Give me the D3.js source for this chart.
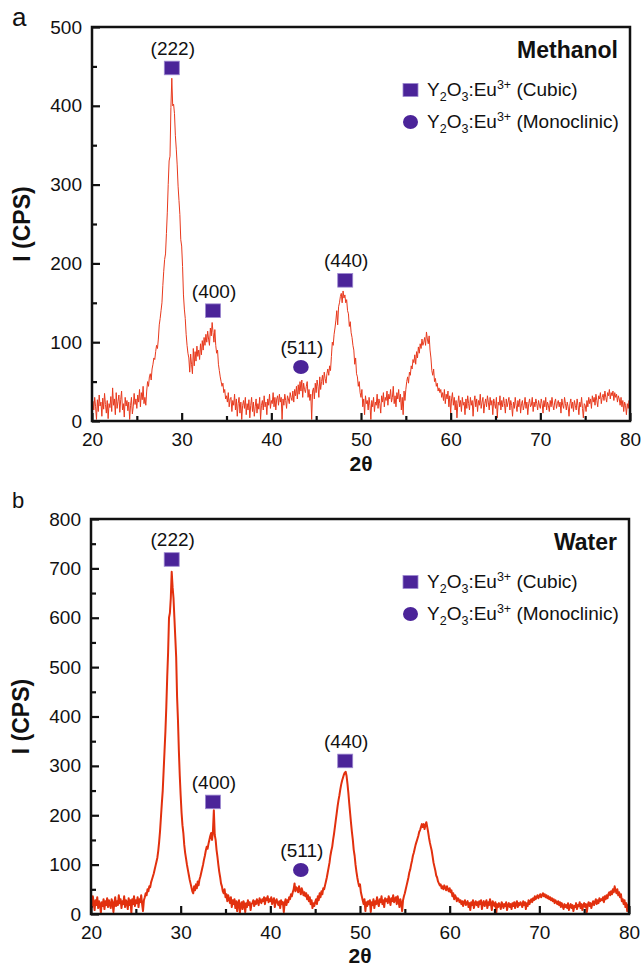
<!DOCTYPE html>
<html>
<head>
<meta charset="utf-8">
<script src="https://cdn.jsdelivr.net/npm/d3@7"></script>
<style>
  html, body { margin: 0; padding: 0; background: #fff; }
  svg { display: block; }
  text { font-family: "Liberation Sans", Arial, Helvetica, sans-serif; fill: #111; }
</style>
</head>
<body>
<svg id="chart" width="641" height="967"></svg>
<script>
// ---------------- DATA ----------------
const twoThetaStart = 20;   // degrees
const twoThetaStep = 0.1;   // degrees per sample

// Methanol sample, I (CPS), 20.0 .. 80.0 in 0.1 deg steps
const methanolCounts = [
  8, 25, 14, 30, 18, 2, 27, 12, 33, 19,
  24, 6, 29, 15, 35, 21, 10, 26, 3, 22,
  17, 31, 12, 42, 20, 28, 8, 36, 16, 25,
  33, 11, 27, 38, 14, 22, 5, 30, 19, 26,
  13, 24, 2, 20, 30, 9, 18, 35, 21, 28,
  16, 33, 24, 40, 18, 36, 27, 44, 22, 30,
  20, 38, 50, 44, 56, 60, 52, 66, 72, 80,
  78, 88, 96, 92, 104, 122, 130, 140, 150, 172,
  190, 205, 212, 238, 265, 300, 330, 336, 398, 435,
  400, 402, 390, 362, 345, 325, 298, 280, 262, 230,
  222, 196, 160, 142, 130, 110, 96, 86, 80, 62,
  85, 72, 60, 92, 70, 88, 76, 95, 82, 90,
  78, 98, 84, 102, 90, 106, 96, 110, 100, 114,
  104, 96, 118, 108, 125, 112, 100, 116, 96, 86,
  90, 72, 64, 56, 50, 44, 48, 36, 40, 28,
  32, 24, 36, 18, 28, 30, 12, 26, 20, 34,
  14, 28, 6, 22, 30, 10, 24, 2, 20, 26,
  16, 30, 8, 22, 14, 27, 4, 20, 30, 12,
  24, 6, 18, 28, 10, 22, 15, 30, 2, 20,
  26, 14, 32, 18, 24, 8, 28, 20, 34, 16,
  26, 22, 36, 18, 30, 14, 28, 32, 20, 34,
  24, 30, 2, 28, 20, 34, 26, 16, 32, 28,
  22, 36, 30, 26, 38, 24, 40, 32, 44, 28,
  46, 34, 50, 38, 52, 30, 48, 40, 36, 44,
  50, 30, 40, 26, 34, 2, 38, 42, 28, 48,
  36, 52, 44, 30, 56, 40, 50, 58, 46, 62,
  54, 48, 60, 66, 58, 70, 64, 82, 100, 96,
  110, 118, 128, 140, 122, 145, 150, 158, 162, 150,
  165, 156, 160, 150, 154, 140, 136, 120, 126, 112,
  106, 96, 90, 72, 80, 60, 56, 44, 50, 36,
  30, 40, 18, 28, 8, 32, 22, 26, 14, 30,
  20, 2, 26, 18, 30, 12, 24, 20, 34, 16,
  28, 22, 10, 32, 24, 36, 18, 30, 26, 38,
  20, 34, 28, 40, 24, 30, 44, 22, 32, 18,
  36, 28, 40, 24, 34, 14, 30, 8, 38, 26,
  40, 50, 56, 48, 62, 58, 70, 66, 78, 74,
  84, 72, 88, 80, 94, 86, 98, 92, 104, 96,
  100, 106, 96, 113, 104, 98, 108, 90, 80, 64,
  58, 66, 50, 54, 44, 48, 38, 42, 36, 40,
  30, 36, 26, 40, 22, 34, 28, 38, 18, 32,
  10, 28, 36, 20, 30, 14, 26, 4, 22, 32,
  18, 26, 12, 30, 20, 24, 8, 28, 16, 32,
  22, 14, 30, 20, 26, 6, 24, 32, 18, 28,
  12, 26, 20, 34, 16, 24, 30, 10, 22, 28,
  18, 32, 24, 14, 30, 20, 26, 8, 28, 22,
  16, 30, 4, 24, 20, 32, 14, 26, 18, 30,
  22, 10, 28, 18, 24, 30, 14, 26, 20, 6,
  24, 16, 30, 20, 12, 26, 18, 28, 10, 22,
  26, 14, 20, 30, 16, 24, 8, 22, 28, 18,
  20, 30, 12, 24, 18, 28, 22, 14, 26, 20,
  16, 28, 22, 10, 26, 18, 30, 14, 24, 20,
  12, 26, 18, 30, 20, 14, 24, 28, 16, 22,
  26, 18, 24, 10, 28, 20, 16, 30, 22, 14,
  24, 18, 6, 22, 28, 16, 24, 12, 26, 20,
  14, 28, 20, 8, 24, 18, 30, 16, 4, 22,
  20, 12, 26, 18, 30, 22, 28, 16, 32, 24,
  30, 20, 34, 26, 18, 32, 28, 36, 22, 30,
  34, 26, 38, 30, 24, 36, 32, 40, 28, 36,
  32, 38, 26, 36, 30, 34, 24, 32, 28, 20,
  30, 18, 26, 12, 24, 20, 8, 22, 16, 26,
  14
];

// Water sample, I (CPS), 20.0 .. 80.0 in 0.1 deg steps
const waterCounts = [
  30, 14, 36, 22, 8, 28, 18, 34, 12, 26,
  20, 2, 24, 16, 30, 10, 26, 18, 32, 14,
  28, 20, 12, 30, 24, 4, 22, 34, 16, 26,
  18, 38, 22, 30, 12, 26, 20, 36, 14, 28,
  24, 10, 32, 18, 28, 2, 30, 20, 36, 16,
  28, 22, 34, 14, 30, 24, 38, 20, 6, 28,
  34, 42, 38, 50, 46, 56, 54, 64, 70, 76,
  82, 90, 98, 106, 114, 128, 146, 168, 196, 224,
  250, 290, 330, 370, 420, 480, 530, 600, 610, 640,
  693, 662, 640, 600, 560, 520, 440, 392, 330, 280,
  240, 205, 180, 164, 140, 124, 112, 100, 90, 80,
  70, 62, 54, 46, 42, 56, 48, 60, 52, 66,
  58, 70, 76, 84, 92, 100, 110, 118, 128, 136,
  132, 142, 150, 158, 164, 150, 168, 210, 160, 150,
  130, 116, 100, 86, 75, 62, 56, 46, 42, 50,
  34, 40, 26, 38, 30, 22, 34, 14, 28, 20,
  30, 12, 26, 6, 22, 28, 2, 18, 24, 10,
  26, 20, 4, 22, 14, 28, 18, 24, 8, 20,
  22, 28, 16, 26, 20, 30, 24, 18, 32, 26,
  22, 30, 26, 34, 20, 32, 28, 36, 24, 30,
  26, 34, 20, 28, 32, 14, 26, 30, 22, 18,
  26, 12, 28, 20, 24, 4, 22, 30, 18, 28,
  24, 34, 30, 40, 36, 44, 50, 62, 46, 54,
  52, 44, 56, 48, 40, 52, 46, 38, 44, 36,
  42, 30, 38, 26, 34, 20, 28, 12, 22, 16,
  24, 30, 20, 36, 28, 42, 34, 46, 40, 52,
  50, 58, 66, 74, 84, 94, 104, 118, 128, 136,
  150, 162, 176, 190, 204, 218, 230, 240, 252, 262,
  270, 276, 282, 286, 288, 280, 264, 246, 224, 204,
  184, 166, 150, 130, 118, 100, 86, 74, 64, 56,
  60, 44, 36, 28, 20, 30, 6, 24, 16, 26,
  20, 28, 4, 24, 18, 30, 12, 26, 20, 34,
  22, 16, 30, 24, 36, 20, 28, 14, 32, 26,
  30, 22, 36, 28, 18, 32, 26, 38, 24, 30,
  34, 20, 36, 26, 14, 30, 22, 6, 28, 36,
  42, 50, 58, 66, 74, 84, 90, 100, 108, 118,
  124, 132, 140, 146, 152, 158, 166, 170, 176, 182,
  176, 182, 172, 180, 186, 176, 166, 154, 144, 136,
  128, 116, 104, 96, 88, 78, 74, 66, 62, 58,
  60, 52, 56, 50, 58, 54, 48, 56, 50, 46,
  52, 44, 48, 36, 42, 30, 38, 34, 26, 32,
  30, 24, 28, 20, 26, 16, 24, 28, 18, 22,
  26, 14, 22, 8, 24, 18, 28, 12, 20, 26,
  18, 24, 14, 26, 20, 28, 10, 22, 26, 16,
  22, 28, 12, 24, 18, 30, 20, 8, 26, 20,
  16, 24, 2, 20, 14, 22, 18, 10, 24, 20,
  12, 20, 16, 24, 8, 18, 22, 14, 20, 10,
  22, 16, 24, 12, 20, 26, 14, 22, 18, 24,
  20, 14, 26, 18, 24, 10, 22, 16, 28, 20,
  26, 30, 24, 32, 28, 36, 30, 34, 38, 32,
  36, 40, 34, 38, 42, 36, 40, 34, 38, 32,
  36, 30, 34, 28, 32, 26, 30, 22, 28, 24,
  20, 26, 18, 24, 14, 22, 16, 10, 20, 14,
  18, 12, 22, 8, 16, 20, 12, 18, 6, 16,
  14, 22, 10, 18, 16, 24, 12, 20, 8, 18,
  22, 14, 20, 4, 18, 24, 16, 22, 12, 20,
  26, 18, 24, 30, 20, 28, 22, 32, 26, 30,
  28, 34, 24, 36, 30, 38, 32, 40, 44, 38,
  46, 40, 50, 44, 56, 48, 42, 50, 38, 44,
  34, 40, 26, 30, 20, 28, 14, 22, 6, 18,
  10
];

// Peak markers: label, 2theta position, intensity at marker, phase
const methanolPeakLabels = ["(222)", "(400)", "(511)", "(440)"];
const methanolPeakTheta  = [28.9, 33.5, 43.3, 48.24];
const methanolPeakLevel  = [448, 140, 68.5, 178.5];
const methanolPeakPhase  = ["cubic", "cubic", "mono", "cubic"];

const waterPeakLabels = ["(222)", "(400)", "(511)", "(440)"];
const waterPeakTheta  = [29.0, 33.6, 43.4, 48.35];
const waterPeakLevel  = [718, 227, 89, 310];
const waterPeakPhase  = ["cubic", "cubic", "mono", "cubic"];

const xTicks = [20, 30, 40, 50, 60, 70, 80];
const xMinorTicks = [25, 35, 45, 55, 65, 75];
const methanolYTicks = [0, 100, 200, 300, 400, 500];
const methanolYMinor = [50, 150, 250, 350, 450];
const waterYTicks = [0, 100, 200, 300, 400, 500, 600, 700, 800];
const waterYMinor = [50, 150, 250, 350, 450, 550, 650, 750];

const legendPhases = ["cubic", "mono"];
const legendNames = ["(Cubic)", "(Monoclinic)"];

// ---------------- DRAW ----------------
const svg = d3.select("#chart");
const markerFill = "#4b2499";
const markerStroke = "#9c88d0";

function drawPanel(cfg) {
  const g = svg.append("g");
  const x = d3.scaleLinear().domain([20, 80]).range([cfg.left, cfg.right]);
  const y = d3.scaleLinear().domain([0, cfg.ymax]).range([cfg.bottom, cfg.top]);

  // data line
  const pts = cfg.counts.map((v, i) => [twoThetaStart + i * twoThetaStep, v]);
  const line = d3.line().x(d => x(d[0])).y(d => y(d[1]));
  g.append("path")
    .datum(pts)
    .attr("d", line)
    .attr("fill", "none")
    .attr("stroke", cfg.lineColor)
    .attr("stroke-width", cfg.lineWidth)
    .attr("stroke-linejoin", "round");

  // axes (inward ticks)
  const xAxis = g.append("g").attr("transform", `translate(0,${cfg.bottom})`)
    .call(d3.axisBottom(x).tickValues(xTicks).tickSize(-8).tickPadding(12).tickFormat(d3.format("d")));
  const xAxisMinor = g.append("g").attr("transform", `translate(0,${cfg.bottom})`)
    .call(d3.axisBottom(x).tickValues(xMinorTicks).tickSize(-5).tickFormat(""));
  const yAxis = g.append("g").attr("transform", `translate(${cfg.left},0)`)
    .call(d3.axisLeft(y).tickValues(cfg.yTicks).tickSize(-8).tickPadding(10).tickFormat(d3.format("d")));
  const yAxisMinor = g.append("g").attr("transform", `translate(${cfg.left},0)`)
    .call(d3.axisLeft(y).tickValues(cfg.yMinor).tickSize(-5).tickFormat(""));
  [xAxis, xAxisMinor, yAxis, yAxisMinor].forEach(a => {
    a.select(".domain").remove();
    a.selectAll(".tick line").attr("stroke", "#111").attr("stroke-width", 2.2);
    a.selectAll(".tick text").attr("font-size", 19)
      .attr("font-family", "'Liberation Sans', Arial, sans-serif").attr("fill", "#111");
  });

  // frame
  g.append("rect")
    .attr("x", cfg.left).attr("y", cfg.top)
    .attr("width", cfg.right - cfg.left).attr("height", cfg.bottom - cfg.top)
    .attr("fill", "none").attr("stroke", "#111").attr("stroke-width", 2.5);

  // peak markers and labels
  cfg.peakLabels.forEach((lab, i) => {
    const px = x(cfg.peakTheta[i]), py = y(cfg.peakLevel[i]);
    if (cfg.peakPhase[i] === "cubic") {
      g.append("rect").attr("x", px - 7.5).attr("y", py - 6.8).attr("width", 15).attr("height", 13.6)
        .attr("fill", markerFill).attr("stroke", markerStroke).attr("stroke-width", 0.8);
    } else {
      g.append("ellipse").attr("cx", px).attr("cy", py).attr("rx", 7.8).attr("ry", 7)
        .attr("fill", markerFill);
    }
    g.append("text").attr("x", px + 1).attr("y", py - 13).attr("text-anchor", "middle")
      .attr("font-size", 19).text(lab);
  });

  // title (sample name)
  g.append("text").attr("x", cfg.right - 12).attr("y", cfg.top + 31)
    .attr("text-anchor", "end").attr("font-size", 23).attr("font-weight", "bold").text(cfg.title);

  // legend
  legendPhases.forEach((ph, i) => {
    const ly = cfg.top + 63 + i * 32;
    if (ph === "cubic") {
      g.append("rect").attr("x", 403).attr("y", ly - 6.5).attr("width", 15).attr("height", 13)
        .attr("fill", markerFill).attr("stroke", markerStroke).attr("stroke-width", 0.8);
    } else {
      g.append("ellipse").attr("cx", 410.5).attr("cy", ly).attr("rx", 7.5).attr("ry", 7)
        .attr("fill", markerFill);
    }
    const t = g.append("text").attr("x", 427).attr("y", ly + 6).attr("font-size", 19);
    t.append("tspan").text("Y");
    t.append("tspan").attr("font-size", 12.5).attr("dy", 5).text("2");
    t.append("tspan").attr("dy", -5).text("O");
    t.append("tspan").attr("font-size", 12.5).attr("dy", 5).text("3");
    t.append("tspan").attr("dy", -5).text(":Eu");
    t.append("tspan").attr("font-size", 12.5).attr("dy", -7).text("3+");
    t.append("tspan").attr("dy", 7).text(" " + legendNames[i]);
  });

  // axis titles
  g.append("text").attr("transform", `translate(${cfg.left - 62},${(cfg.top + cfg.bottom) / 2}) rotate(-90)`)
    .attr("text-anchor", "middle").attr("font-size", 23).attr("font-weight", "bold").text("I (CPS)");
  g.append("text").attr("x", (cfg.left + cfg.right) / 2).attr("y", cfg.bottom + cfg.xTitleOffset)
    .attr("text-anchor", "middle").attr("font-size", 21).attr("font-weight", "bold").text("2θ");

  // panel letter
  g.append("text").attr("x", 12).attr("y", cfg.letterY)
    .attr("font-family", "'Liberation Serif', 'Times New Roman', serif")
    .attr("font-size", cfg.letterSize).text(cfg.letter);
}

drawPanel({
  left: 92, right: 630, top: 27, bottom: 421, ymax: 500,
  counts: methanolCounts, lineColor: "#e8391d", lineWidth: 1,
  yTicks: methanolYTicks, yMinor: methanolYMinor,
  peakLabels: methanolPeakLabels, peakTheta: methanolPeakTheta,
  peakLevel: methanolPeakLevel, peakPhase: methanolPeakPhase,
  title: "Methanol", letter: "a", letterY: 26, letterSize: 26, xTitleOffset: 50
});

drawPanel({
  left: 91, right: 629, top: 519, bottom: 914, ymax: 800,
  counts: waterCounts, lineColor: "#e2300e", lineWidth: 2,
  yTicks: waterYTicks, yMinor: waterYMinor,
  peakLabels: waterPeakLabels, peakTheta: waterPeakTheta,
  peakLevel: waterPeakLevel, peakPhase: waterPeakPhase,
  title: "Water", letter: "b", letterY: 508, letterSize: 22, xTitleOffset: 49
});
</script>
</body>
</html>
